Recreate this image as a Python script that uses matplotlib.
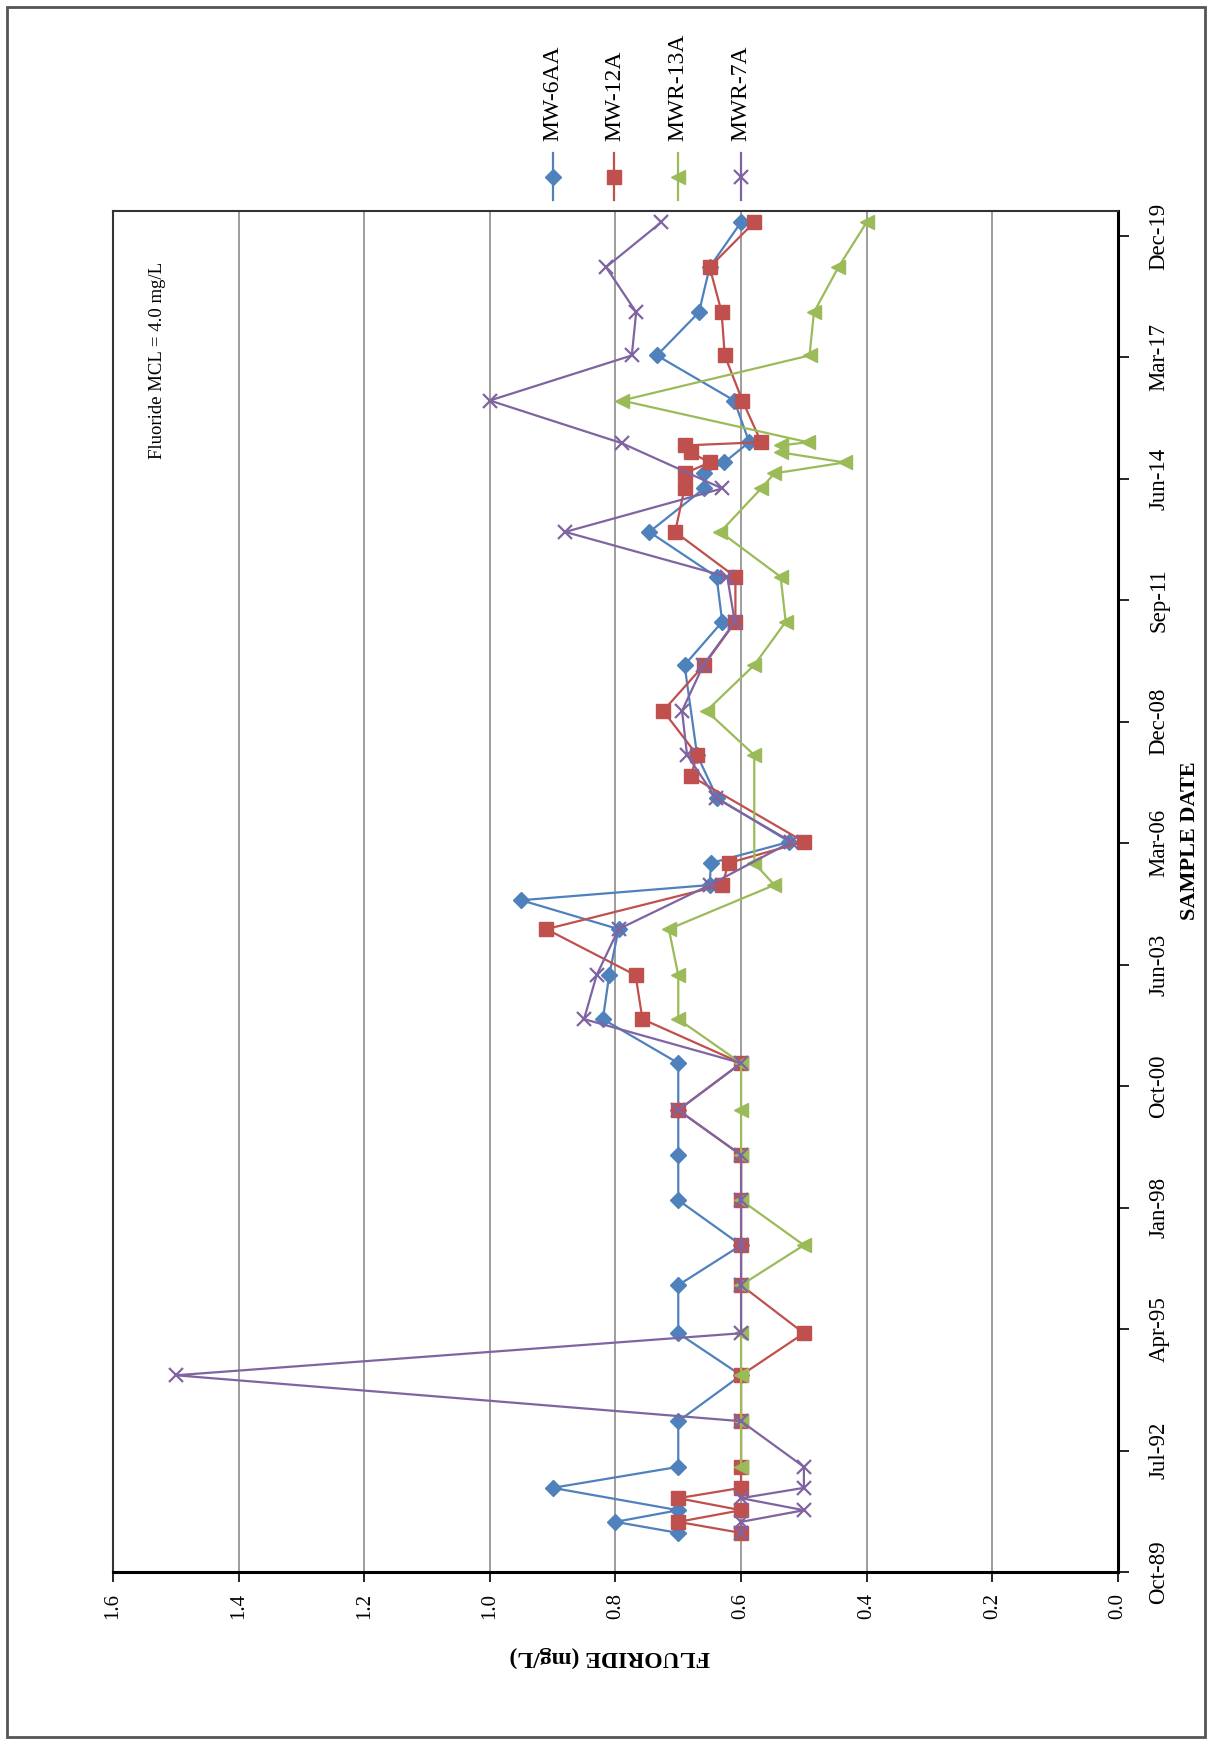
import matplotlib
matplotlib.use("Agg")
import matplotlib.pyplot as plt
import matplotlib.dates as mdates
from matplotlib.lines import Line2D
from matplotlib.patches import Rectangle
import pandas as pd

plt.rcParams["font.family"] = ["Liberation Serif", "DejaVu Serif"]

# MW-6AA
mw6aa_dates = ["1990-09-07", "1990-12-07", "1991-03-13", "1991-09-13", "1992-03-04",
               "1993-03-15", "1994-03-28", "1995-03-09", "1996-04-08", "1997-03-03",
               "1998-03-09", "1999-03-15", "2000-03-19", "2001-04-10", "2002-04-07",
               "2003-04-04", "2004-04-17", "2004-12-11", "2005-04-15", "2005-10-13",
               "2006-04-06", "2007-04-01", "2008-03-20", "2010-03-31", "2011-03-22",
               "2012-03-26", "2013-03-31", "2014-03-24", "2014-07-26", "2014-10-24",
               "2015-04-09", "2016-03-17", "2017-03-23", "2018-03-14", "2019-03-20",
               "2020-03-24"]
mw6aa_vals = [0.70, 0.80, 0.70, 0.90, 0.70,
              0.70, 0.60, 0.70, 0.70, 0.60,
              0.70, 0.70, 0.70, 0.70, 0.82,
              0.81, 0.795, 0.95, 0.65, 0.648,
              0.523, 0.638, 0.67, 0.69, 0.63,
              0.639, 0.746, 0.659, 0.659, 0.627,
              0.587, 0.611, 0.734, 0.667, 0.65,
              0.60]

# MW-12A
mw12a_dates = ["1990-09-07", "1990-12-07", "1991-03-13", "1991-06-20", "1991-09-13",
               "1992-03-04", "1993-03-15", "1994-03-28", "1995-03-09", "1996-04-08",
               "1997-03-03", "1998-03-09", "1999-03-15", "2000-03-19", "2001-04-10",
               "2002-04-07", "2003-04-04", "2004-04-17", "2005-04-15", "2005-10-13",
               "2006-04-06", "2007-09-29", "2008-03-20", "2009-03-19", "2010-03-31",
               "2011-03-22", "2012-03-26", "2013-03-31", "2014-03-24", "2014-07-26",
               "2014-10-24", "2015-01-14", "2015-03-13", "2015-04-09", "2016-03-17",
               "2017-03-23", "2018-03-14", "2019-03-20", "2020-03-24"]
mw12a_vals = [0.60, 0.70, 0.60, 0.70, 0.60,
              0.60, 0.60, 0.60, 0.50, 0.60,
              0.60, 0.60, 0.60, 0.70, 0.60,
              0.757, 0.768, 0.91, 0.63, 0.62,
              0.50, 0.68, 0.67, 0.724, 0.659,
              0.609, 0.609, 0.705, 0.69, 0.69,
              0.65, 0.68, 0.69, 0.568, 0.598,
              0.626, 0.631, 0.65, 0.579]

# MWR-13A
mwr13a_dates = ["1992-03-04", "1993-03-15", "1994-03-28", "1995-03-09", "1996-04-08",
                "1997-03-03", "1998-03-09", "1999-03-15", "2000-03-19", "2001-04-10",
                "2002-04-07", "2003-04-04", "2004-04-17", "2005-04-15", "2005-10-13",
                "2008-03-20", "2009-03-19", "2010-03-31", "2011-03-22", "2012-03-26",
                "2013-03-31", "2014-03-24", "2014-07-26", "2014-10-24", "2015-01-14",
                "2015-03-13", "2015-04-09", "2016-03-17", "2017-03-23", "2018-03-14",
                "2019-03-20", "2020-03-24"]
mwr13a_vals = [0.60, 0.60, 0.60, 0.60, 0.60,
               0.50, 0.60, 0.60, 0.60, 0.60,
               0.70, 0.70, 0.715, 0.547, 0.579,
               0.579, 0.655, 0.579, 0.529, 0.537,
               0.633, 0.568, 0.547, 0.435, 0.536,
               0.536, 0.494, 0.79, 0.491, 0.484,
               0.445, 0.40]

# MWR-7A
mwr7a_dates = ["1990-09-07", "1990-12-07", "1991-03-13", "1991-06-20", "1991-09-13",
               "1992-03-04", "1993-03-15", "1994-03-28", "1995-03-09", "1996-04-08",
               "1997-03-03", "1998-03-09", "1999-03-15", "2000-03-19", "2001-04-10",
               "2002-04-07", "2003-04-04", "2004-04-17", "2005-04-15", "2006-04-06",
               "2007-04-01", "2008-03-20", "2009-03-19", "2010-03-31", "2011-03-22",
               "2012-03-26", "2013-03-31", "2014-03-24", "2015-04-01", "2016-03-17",
               "2017-03-23", "2018-03-14", "2019-03-20", "2020-03-24"]
mwr7a_vals = [0.60, 0.60, 0.50, 0.60, 0.50,
              0.50, 0.60, 1.50, 0.60, 0.60,
              0.60, 0.60, 0.60, 0.70, 0.60,
              0.85, 0.83, 0.795, 0.65, 0.52,
              0.64, 0.686, 0.694, 0.66, 0.61,
              0.622, 0.88, 0.63, 0.79, 1.00,
              0.774, 0.767, 0.815, 0.727]

series = [
    ("MW-6AA", mw6aa_dates, mw6aa_vals, "#4F81BD", "D", 8),
    ("MW-12A", mw12a_dates, mw12a_vals, "#C0504D", "s", 10),
    ("MWR-13A", mwr13a_dates, mwr13a_vals, "#9BBB59", "<", 10),
    ("MWR-7A", mwr7a_dates, mwr7a_vals, "#8064A2", "x", 10),
]

axis_start = pd.Timestamp("1989-10-20")
axis_end = axis_start + pd.Timedelta(days=11205)
date_ticks = [axis_start + pd.Timedelta(days=1000 * k) for k in range(12)]
value_ticks = [0.0, 0.2, 0.4, 0.6, 0.8, 1.0, 1.2, 1.4, 1.6]

fig = plt.figure(figsize=(12.12, 17.44), dpi=100)
ax = fig.add_axes([0.0932, 0.0986, 0.8292, 0.7804])

for name, dates, vals, color, marker, ms in series:
    ax.plot(vals, pd.to_datetime(dates), color=color, lw=1.6, marker=marker,
            ms=ms, mfc=color, mec=color, mew=1.6 if marker == "x" else 1.0,
            zorder=3)

ax.set_xlim(1.6, 0.0)
ax.set_ylim(axis_start, axis_end)
ax.set_xticks(value_ticks)
ax.set_xticklabels([f"{v:.1f}" for v in value_ticks])
ax.set_yticks(date_ticks)
ax.yaxis.set_major_formatter(mdates.DateFormatter("%b-%y"))
ax.yaxis.tick_right()
ax.tick_params(axis="x", labelrotation=90, labelsize=15, length=7, width=1.2,
               pad=8, direction="out")
ax.tick_params(axis="y", labelrotation=90, labelsize=16.5, length=8, width=1.2,
               pad=14, direction="out")
for lab in ax.get_yticklabels():
    lab.set_verticalalignment("center")
ax.grid(axis="x", color="#8c8c8c", lw=1.2, zorder=0)

for side in ["left", "top"]:
    ax.spines[side].set_color("#333333")
    ax.spines[side].set_linewidth(1.5)
for side in ["right", "bottom"]:
    ax.spines[side].set_color("black")
    ax.spines[side].set_linewidth(2.2)

ax.text(0.044, 0.963, "Fluoride MCL = 4.0 mg/L", transform=ax.transAxes,
        rotation=90, ha="center", va="top", fontsize=13.5)

fig.text(0.503, 0.05, "FLUORIDE (mg/L)", rotation=180, ha="center",
         va="center", fontsize=17, fontweight="bold")
fig.text(0.982, 0.518, "SAMPLE DATE", rotation=90, ha="center",
         va="center", fontsize=16, fontweight="bold")

# legend, drawn rotated like the rest of the chart
legend_x = [0.456, 0.507, 0.559, 0.611]
for (name, dates, vals, color, marker, ms), lx in zip(series, legend_x):
    fig.add_artist(Line2D([lx, lx], [0.8853, 0.9123], transform=fig.transFigure,
                          color=color, lw=1.6))
    fig.add_artist(Line2D([lx], [0.8985], transform=fig.transFigure, color=color,
                          marker=marker, ms=ms, mfc=color, mec=color,
                          mew=1.6 if marker == "x" else 1.0))
    fig.text(lx, 0.919, name, rotation=90, ha="center", va="bottom", fontsize=17)

fig.add_artist(Rectangle((0.006, 0.004), 0.988, 0.992, transform=fig.transFigure,
                         fill=False, edgecolor="#555555", lw=2))

fig.savefig("out.png", dpi=100)
plt.close(fig)
